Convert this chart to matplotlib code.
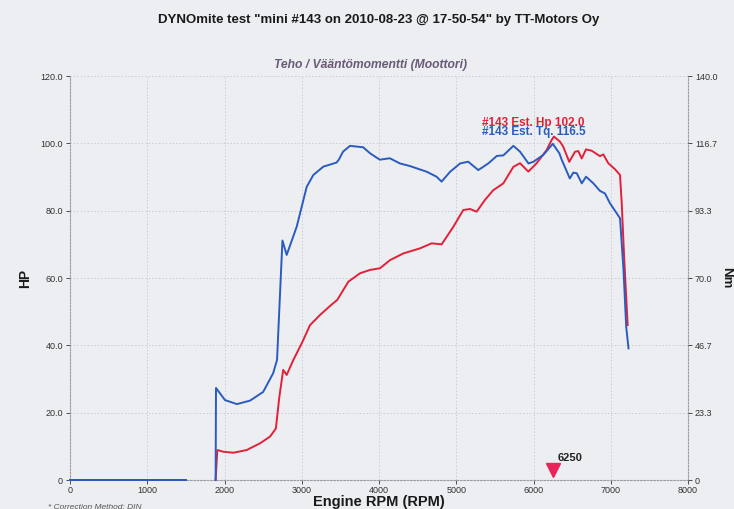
import numpy as np
import matplotlib
matplotlib.use("Agg")
import matplotlib.pyplot as plt
from matplotlib.ticker import FixedLocator

plt.rcParams['font.family'] = ['Liberation Sans', 'DejaVu Sans']

nan = np.nan
# Torque (Nm, right axis)
tq_rpm = [0, 1500, nan, 1885, 1890, 2006, 2160, 2330, 2500, 2630, 2680, 2750, 2805, 2935,
          3064, 3150, 3280, 3450, 3480, 3535, 3625, 3795, 3885, 4010, 4140, 4270, 4400,
          4620, 4745, 4810, 4920, 5050, 5155, 5285, 5415, 5525, 5610, 5740, 5825, 5935,
          6000, 6125, 6250, 6335, 6365, 6470, 6515, 6560, 6625, 6680, 6775, 6860, 6925,
          6990, 7120, 7165, 7200, 7230]
tq_val = [0, 0, nan, 0, 31.9, 27.7, 26.3, 27.5, 30.5, 37.0, 41.6, 83.0, 78.0, 87.8,
          101.6, 105.7, 108.6, 110.0, 111.0, 113.8, 115.8, 115.3, 113.2, 111.0, 111.5, 109.7, 108.8,
          106.8, 105.1, 103.4, 106.8, 109.7, 110.3, 107.4, 109.7, 112.3, 112.5, 115.8, 113.8, 109.7,
          110.3, 112.6, 116.5, 113.2, 111.0, 104.5, 106.5, 106.3, 102.8, 105.1, 102.8, 100.2, 99.3,
          95.9, 90.7, 72.8, 53.1, 45.6]

# Power (HP, left axis)
hp_rpm = [0, 1500, nan, 1885, 1907, 1985, 2115, 2287, 2460, 2590, 2665, 2710, 2760, 2805,
          2890, 3000, 3107, 3236, 3366, 3460, 3603, 3754, 3884, 4013, 4142, 4315, 4530,
          4682, 4811, 4962, 5091, 5178, 5264, 5372, 5480, 5609, 5739, 5825, 5933, 6041,
          6170, 6235, 6265, 6343, 6385, 6463, 6537, 6580, 6624, 6680, 6753, 6860, 6904,
          6968, 7055, 7120, 7142, 7175, 7219]
hp_val = [0, 0, nan, 0, 8.9, 8.4, 8.1, 8.9, 10.9, 12.9, 15.3, 24.7, 32.7, 31.2,
          35.6, 40.6, 46.0, 49.0, 51.7, 53.5, 58.9, 61.4, 62.4, 62.9, 65.3, 67.3, 68.8,
          70.3, 70.0, 75.2, 80.2, 80.5, 79.7, 83.2, 86.1, 88.1, 93.0, 94.1, 91.6, 94.1,
          98.0, 101.0, 102.0, 100.5, 99.0, 94.5, 97.5, 97.7, 95.5, 98.2, 97.8, 96.2, 96.7,
          94.1, 92.3, 90.6, 82.2, 65.3, 46.0]

x_ticks = [0, 1000, 2000, 3000, 4000, 5000, 6000, 7000, 8000]
hp_ticks = [0, 20, 40, 60, 80, 100, 120]
hp_labels = ["0", "20.0", "40.0", "60.0", "80.0", "100.0", "120.0"]
nm_ticks = [0, 140/6, 280/6, 70, 560/6, 700/6, 140]
nm_labels = ["0", "23.3", "46.7", "70.0", "93.3", "116.7", "140.0"]
marker_rpm = 6250

bg = '#eceef1'
red = '#e3203a'
blue = '#2a5cc0'
grid_c = '#c9ccd3'

fig = plt.figure(figsize=(7.34, 5.09), dpi=100, facecolor=bg)
ax = fig.add_axes([70/734, 1-480/509, (688-70)/734, (480-76)/509])
ax.set_facecolor(bg)
ax.set_xlim(0, 8000)
ax.set_ylim(0, 120)
ax.xaxis.set_major_locator(FixedLocator(x_ticks))
ax.set_xticklabels([str(t) for t in x_ticks])
ax.yaxis.set_major_locator(FixedLocator(hp_ticks))
ax.set_yticklabels(hp_labels)
ax.grid(True, color=grid_c, linestyle=(0, (1.5, 2)), linewidth=0.7)
ax.spines['top'].set_visible(False)
for s in ['left', 'right', 'bottom']:
    ax.spines[s].set_color('#9a9da6')
    ax.spines[s].set_linestyle((0, (1.5, 1.5)))
    ax.spines[s].set_linewidth(0.8)
ax.tick_params(axis='both', labelsize=6.5, colors='#333333', length=3, width=0.6, pad=2)
ax.tick_params(axis='x', pad=1)

ax2 = ax.twinx()
ax2.set_ylim(0, 140)
ax2.yaxis.set_major_locator(FixedLocator(nm_ticks))
ax2.set_yticklabels(nm_labels)
ax2.tick_params(axis='y', labelsize=6.5, colors='#333333', length=3, width=0.6, pad=2)
for s in ['top', 'left', 'bottom', 'right']:
    ax2.spines[s].set_visible(False)

ax.plot(hp_rpm, hp_val, color=red, linewidth=1.4, zorder=3, clip_on=False)
ax2.plot(tq_rpm, tq_val, color=blue, linewidth=1.4, zorder=4, clip_on=False)

ax.plot([marker_rpm], [3.0], marker='v', color='#e8245a', markersize=10, linestyle='none',
        clip_on=False, zorder=5)
ax.text(marker_rpm + 60, 5.0, "6250", fontsize=8, fontweight='bold', color='#222222',
        ha='left', va='bottom')

ax.text(5330, 104.3, "#143 Est. Hp 102.0", color=red, fontsize=8.5, fontweight='bold',
        ha='left', va='bottom', zorder=6)
ax.text(5330, 101.6, "#143 Est. Tq. 116.5", color=blue, fontsize=8.5, fontweight='bold',
        ha='left', va='bottom', zorder=6)

ax.set_xlabel("Engine RPM (RPM)", fontsize=10.5, fontweight='bold', labelpad=0, color='#1a1a1a')
ax.set_ylabel("HP", fontsize=10, fontweight='bold', labelpad=6, color='#1a1a1a')
ax2.set_ylabel("Nm", fontsize=9.5, fontweight='bold', rotation=-90, color='#1a1a1a',
               va='center', ha='center')
ax2.yaxis.set_label_coords(1.0 + (726 - 688) / 618, 0.5)

fig.text(379/734, 1-20/509, 'DYNOmite test "mini #143 on 2010-08-23 @ 17-50-54" by TT-Motors Oy',
         ha='center', va='center', fontsize=9.5, fontweight='bold', color='#1a1a1a')
fig.text(371/734, 1-65/509, "Teho / Vääntömomentti (Moottori)", ha='center', va='center',
         fontsize=8.7, fontweight='bold', style='italic', color='#6a5a78')
fig.text(48/734, -0.004, "* Correction Method: DIN", ha='left', va='bottom',
         fontsize=6, style='italic', color='#555555')

fig.savefig("out.png", dpi=100, facecolor=bg)
